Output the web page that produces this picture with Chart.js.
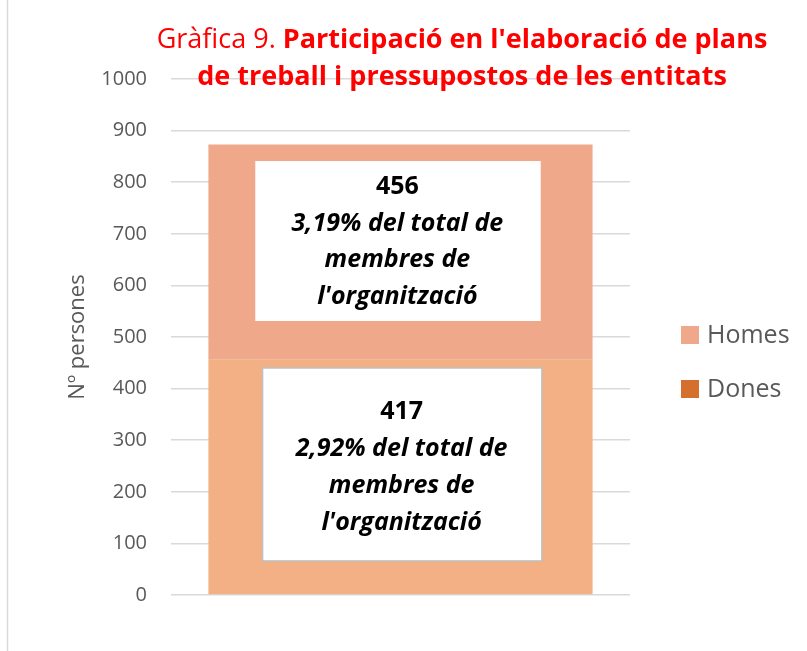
<!DOCTYPE html>
<html><head><meta charset="utf-8">
<script src="https://cdn.jsdelivr.net/npm/chart.js@4.4.1/dist/chart.umd.min.js"></script>
<style>html,body{margin:0;padding:0;background:#fff}#wrap{width:807px;height:651px;position:relative}</style>
</head><body><div id="wrap"><canvas id="c" width="807" height="651"></canvas></div>
<script>
const categories = [''];
const seriesNames = ['Dones', 'Homes'];
const donesValues = [456];
const homesValues = [417];
const yTicks = [0,100,200,300,400,500,600,700,800,900,1000];
const labelLines = {
  Homes: ['456', "3,19% del total de", 'membres de', "l'organització"],
  Dones: ['417', "2,92% del total de", 'membres de', "l'organització"]
};
const titleNormal = 'Gràfica 9. ';
const titleBold1 = "Participació en l'elaboració de plans";
const titleBold2 = 'de treball i pressupostos de les entitats';
const yTitle = 'Nº persones';

const FONT = '"Open Sans", sans-serif';
const barColors = { Dones: '#F3B084', Homes: '#F0A88A' };
const legendColors = { Homes: '#F0A88A', Dones: '#D46F2D' };

// text-box placement in value space (y) and fraction of bar width (x)
const boxes = [
  { key: 'Homes', y0: 531, y1: 841, fx0: 0.122, fx1: 0.865, border: null, textX: 0.492, firstY: 791 },
  { key: 'Dones', y0: 66, y1: 440, fx0: 0.141, fx1: 0.868, border: '#BFBFBF', textX: 0.503, firstY: 354 }
];

const overlay = {
  id: 'overlay',
  afterDatasetsDraw(chart) {
    const ctx = chart.ctx;
    const y = chart.scales.y;
    const bar = chart.getDatasetMeta(0).data[0];
    const bx0 = bar.x - bar.width / 2, bw = bar.width;
    ctx.save();
    boxes.forEach(b => {
      const x0 = bx0 + bw * b.fx0, x1 = bx0 + bw * b.fx1;
      const yt = y.getPixelForValue(b.y1), yb = y.getPixelForValue(b.y0);
      ctx.fillStyle = '#fff';
      ctx.fillRect(x0, yt, x1 - x0, yb - yt);
      if (b.border) { ctx.strokeStyle = b.border; ctx.lineWidth = 1.5; ctx.strokeRect(x0, yt, x1 - x0, yb - yt); }
      ctx.fillStyle = '#000';
      ctx.textAlign = 'center';
      ctx.textBaseline = 'middle';
      const tx = bx0 + bw * b.textX;
      labelLines[b.key].forEach((line, i) => {
        ctx.font = (i === 0 ? 'bold ' : 'italic bold ') + '25px ' + FONT;
        const py = y.getPixelForValue(b.firstY) + i * 36.7;
        ctx.fillText(line, tx, py);
      });
    });
    ctx.restore();
  },
  afterDraw(chart) {
    const ctx = chart.ctx;
    ctx.save();
    ctx.strokeStyle = '#D9D9D9'; ctx.lineWidth = 1.5;
    ctx.beginPath(); ctx.moveTo(7.5, 0); ctx.lineTo(7.5, 651); ctx.stroke();
    // title
    ctx.fillStyle = '#FF0000';
    ctx.textBaseline = 'middle';
    ctx.textAlign = 'left';
    const fN = '27px ' + FONT, fB = 'bold 27px ' + FONT;
    ctx.font = fN; const wN = ctx.measureText(titleNormal).width;
    ctx.font = fB; const wB = ctx.measureText(titleBold1).width;
    const cx = 462;
    const x = cx - (wN + wB) / 2;
    ctx.font = fN; ctx.fillText(titleNormal, x, 40);
    ctx.font = fB; ctx.fillText(titleBold1, x + wN, 40);
    ctx.textAlign = 'center';
    ctx.fillText(titleBold2, cx, 77);
    // legend
    ['Homes', 'Dones'].forEach((name, i) => {
      const ly = 335 + i * 54;
      ctx.fillStyle = legendColors[name];
      ctx.fillRect(681, ly - 9, 18, 18);
      ctx.fillStyle = '#595959';
      ctx.textAlign = 'left';
      ctx.font = '25px ' + FONT;
      ctx.fillText(name, 707, ly + 1);
    });
    ctx.restore();
  }
};

new Chart(document.getElementById('c'), {
  type: 'bar',
  data: {
    labels: categories,
    datasets: [
      { label: seriesNames[0], data: donesValues, backgroundColor: barColors.Dones, borderWidth: 0 },
      { label: seriesNames[1], data: homesValues, backgroundColor: barColors.Homes, borderWidth: 0 }
    ]
  },
  options: {
    responsive: false,
    animation: false,
    devicePixelRatio: 1,
    layout: { padding: { left: 65, right: 177, top: 79, bottom: 56 } },
    plugins: { legend: { display: false }, tooltip: { enabled: false }, title: { display: false } },
    datasets: { bar: { barPercentage: 0.837, categoryPercentage: 1 } },
    scales: {
      x: { stacked: true, display: false },
      y: {
        stacked: true, min: 0, max: 1000,
        afterBuildTicks: s => { s.ticks = yTicks.map(v => ({ value: v })); },
        afterFit: s => { s.width = 106; },
        border: { display: false },
        grid: { color: '#D9D9D9', lineWidth: 1.5, drawTicks: false },
        ticks: { color: '#595959', font: { family: FONT, size: 20 }, padding: 24, callback: v => String(v) },
        title: { display: true, text: yTitle, color: '#595959', font: { family: FONT, size: 22 }, padding: { top: 0, bottom: 0 } }
      }
    }
  },
  plugins: [overlay]
});
</script></body></html>
